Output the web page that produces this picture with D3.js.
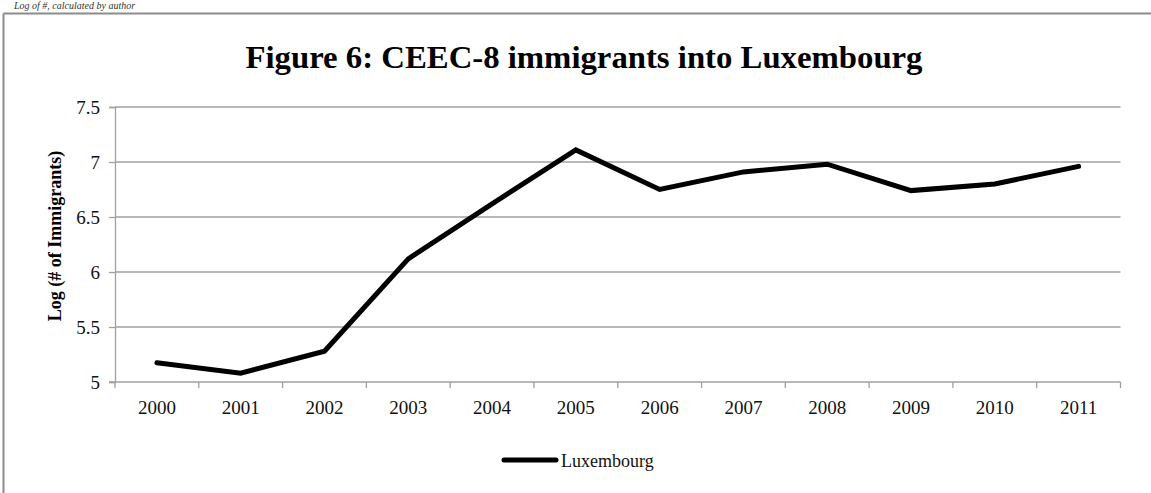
<!DOCTYPE html>
<html>
<head>
<meta charset="utf-8">
<script src="https://cdn.jsdelivr.net/npm/d3@7"></script>
<style>
  html, body { margin: 0; padding: 0; background: #fff; overflow: hidden; }
  svg { display: block; }
</style>
</head>
<body>
<svg id="chart" width="1151" height="493"></svg>
<script>
// Data: log of CEEC-8 immigrant counts into Luxembourg
const years = ["2000","2001","2002","2003","2004","2005","2006","2007","2008","2009","2010","2011"];
const luxembourg = [5.175, 5.08, 5.28, 6.12, 6.62, 7.11, 6.75, 6.91, 6.98, 6.74, 6.80, 6.96];
const yTicks = [5, 5.5, 6, 6.5, 7, 7.5];
const seriesName = "Luxembourg";

const serif = "'Liberation Serif', 'DejaVu Serif', serif";
const svg = d3.select("#chart");

// caption above the frame
svg.append("text")
  .attr("x", 14).attr("y", 9)
  .attr("font-family", serif).attr("font-style", "italic")
  .attr("font-size", 10).attr("fill", "#333")
  .text("Log of #, calculated by author");

// chart frame: only the left and top edges fall inside the page
const frame = svg.append("g").attr("stroke", "#8c8c8c").attr("stroke-width", 2);
frame.append("line").attr("x1", 3.5).attr("x2", 1151).attr("y1", 13.5).attr("y2", 13.5);
frame.append("line").attr("x1", 3.5).attr("x2", 3.5).attr("y1", 13.5).attr("y2", 493);

const margin = { left: 115, right: 1120.5, top: 107, bottom: 382 };

const x = d3.scaleBand().domain(years).range([margin.left, margin.right]);
const y = d3.scaleLinear().domain([5, 7.5]).range([margin.bottom, margin.top]);

// gridlines
svg.append("g").selectAll("line").data(yTicks.filter(d => d > 5)).join("line")
  .attr("x1", margin.left).attr("x2", margin.right)
  .attr("y1", d => y(d)).attr("y2", d => y(d))
  .attr("stroke", "#a0a0a0").attr("stroke-width", 1.3);

// y axis
const yAxis = svg.append("g")
  .attr("transform", `translate(${margin.left},0)`)
  .call(d3.axisLeft(y).tickValues(yTicks).tickSize(6).tickPadding(9).tickFormat(d3.format("")));
yAxis.select(".domain").attr("stroke", "#a0a0a0").attr("stroke-width", 1.3);
yAxis.selectAll(".tick line").attr("stroke", "#a0a0a0").attr("stroke-width", 1.3);
yAxis.selectAll(".tick text")
  .attr("font-family", serif).attr("font-size", 19).attr("fill", "#111");

// x axis with ticks on category boundaries
const xAxisG = svg.append("g").attr("transform", `translate(0,${margin.bottom})`);
xAxisG.append("line")
  .attr("x1", margin.left - 6).attr("x2", margin.right)
  .attr("y1", 0).attr("y2", 0)
  .attr("stroke", "#a0a0a0").attr("stroke-width", 1.3);
const bounds = years.map(d => x(d)).concat([x.range()[1]]);
xAxisG.selectAll("line.tk").data(bounds).join("line")
  .attr("class", "tk")
  .attr("x1", d => d).attr("x2", d => d)
  .attr("y1", 0).attr("y2", 6)
  .attr("stroke", "#a0a0a0").attr("stroke-width", 1.3);
xAxisG.selectAll("text").data(years).join("text")
  .attr("x", d => x(d) + x.bandwidth() / 2)
  .attr("y", 32)
  .attr("text-anchor", "middle")
  .attr("font-family", serif).attr("font-size", 19).attr("fill", "#111")
  .text(d => d);

// y axis title
svg.append("text")
  .attr("transform", "translate(61,236) rotate(-90)")
  .attr("text-anchor", "middle")
  .attr("font-family", serif).attr("font-weight", "bold")
  .attr("font-size", 18).attr("fill", "#000")
  .text("Log (# of Immigrants)");

// title
svg.append("text")
  .attr("x", 584).attr("y", 68)
  .attr("text-anchor", "middle")
  .attr("font-family", serif).attr("font-weight", "bold")
  .attr("font-size", 31).attr("fill", "#000")
  .attr("textLength", 677).attr("lengthAdjust", "spacingAndGlyphs")
  .text("Figure 6: CEEC-8 immigrants into Luxembourg");

// series line
const line = d3.line()
  .x((d, i) => x(years[i]) + x.bandwidth() / 2)
  .y(d => y(d));
svg.append("path")
  .datum(luxembourg)
  .attr("d", line)
  .attr("fill", "none").attr("stroke", "#000")
  .attr("stroke-width", 5).attr("stroke-linejoin", "miter").attr("stroke-linecap", "round");

// legend
const lg = svg.append("g");
lg.append("line")
  .attr("x1", 504).attr("x2", 556).attr("y1", 460).attr("y2", 460)
  .attr("stroke", "#000").attr("stroke-width", 5).attr("stroke-linecap", "round");
lg.append("text")
  .attr("x", 561).attr("y", 467)
  .attr("font-family", serif).attr("font-size", 18).attr("fill", "#111")
  .text(seriesName);
</script>
</body>
</html>
